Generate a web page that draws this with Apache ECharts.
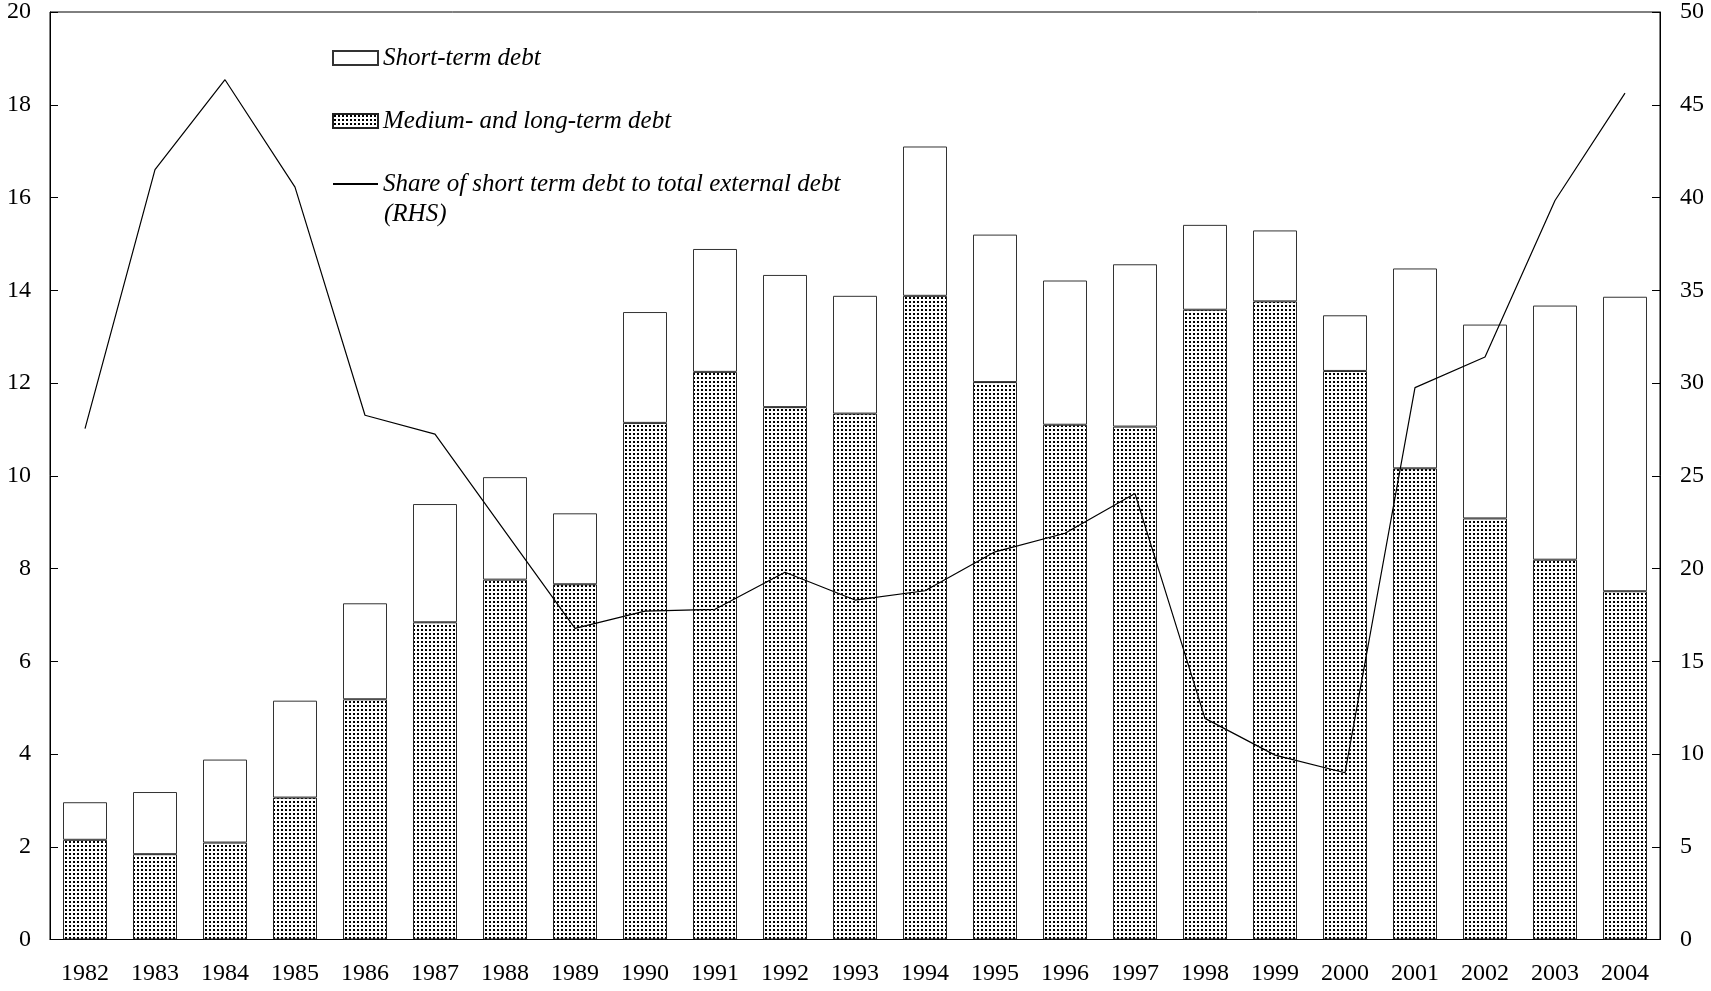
<!DOCTYPE html>
<html>
<head>
<meta charset="utf-8">
<script src="https://cdn.jsdelivr.net/npm/echarts@6/dist/echarts.min.js"></script>
<style>
html,body{margin:0;padding:0;background:#fff;}
#chart{width:1711px;height:991px;}
</style>
</head>
<body>
<div id="chart"></div>
<script>
const years = ['1982','1983','1984','1985','1986','1987','1988','1989','1990','1991','1992','1993','1994','1995','1996','1997','1998','1999','2000','2001','2002','2003','2004'];
const mediumLongTerm = [2.15, 1.84, 2.09, 3.06, 5.18, 6.84, 7.76, 7.66, 11.14, 12.24, 11.48, 11.34, 13.88, 12.02, 11.10, 11.06, 13.58, 13.76, 12.26, 10.16, 9.08, 8.19, 7.51];
const shortTerm = [0.81, 1.34, 1.79, 2.09, 2.07, 2.55, 2.21, 1.53, 2.39, 2.65, 2.85, 2.54, 3.22, 3.18, 3.11, 3.50, 1.83, 1.53, 1.20, 4.31, 4.18, 5.48, 6.35];
const shareShortTerm = [27.54, 41.5, 46.35, 40.56, 28.26, 27.24, 22.0, 16.77, 17.7, 17.8, 19.8, 18.3, 18.8, 20.9, 21.9, 24.04, 11.92, 9.94, 8.99, 29.75, 31.4, 39.84, 45.63];
const leftTicks = {min: 0, max: 20, interval: 2};
const rightTicks = {min: 0, max: 50, interval: 5};

const NAME_ST = 'Short-term debt';
const NAME_MLT = 'Medium- and long-term debt';
const NAME_SHARE = 'Share of short term debt to total external debt (RHS)';

const pat = document.createElement('canvas');
pat.width = 4; pat.height = 4;
const pc = pat.getContext('2d');
pc.fillStyle = '#fff'; pc.fillRect(0, 0, 4, 4);
pc.fillStyle = '#000'; pc.fillRect(1, 1, 2, 2);

const FONT = 'Liberation Serif';
const chart = echarts.init(document.getElementById('chart'), null, {renderer: 'canvas'});
chart.setOption({
  animation: false,
  backgroundColor: '#fff',
  grid: {left: 50, right: 51, top: 11.5, bottom: 51.5, show: true, borderColor: '#000', borderWidth: 1, backgroundColor: 'transparent'},
  legend: {
    orient: 'vertical', left: 332, top: 45.5, padding: 0,
    itemWidth: 45, itemHeight: 14, itemGap: 38,
    textStyle: {fontFamily: FONT, fontStyle: 'italic', fontSize: 25, lineHeight: 25, color: '#000'},
    data: [
      {name: NAME_ST, icon: 'rect'},
      {name: NAME_MLT, icon: 'rect'},
      {name: NAME_SHARE, itemStyle: {opacity: 0}}
    ],
    formatter: function (n) { return n === NAME_SHARE ? 'Share of short term debt to total external debt' : n; }
  },
  graphic: [{
    type: 'text', left: 384, top: 202,
    style: {text: '(RHS)', font: 'italic 25px "Liberation Serif"', fill: '#000'}
  }],
  xAxis: {
    type: 'category', data: years, boundaryGap: true,
    axisLine: {lineStyle: {color: '#000', width: 1}},
    axisTick: {inside: true, length: 8, lineStyle: {color: '#000'}},
    axisLabel: {fontFamily: FONT, fontSize: 24, color: '#000', margin: 22, interval: 0}
  },
  yAxis: [{
    type: 'value', min: leftTicks.min, max: leftTicks.max, interval: leftTicks.interval,
    axisLine: {show: true, lineStyle: {color: '#000', width: 1}},
    axisTick: {show: true, inside: true, length: 8, lineStyle: {color: '#000'}},
    axisLabel: {fontFamily: FONT, fontSize: 24, color: '#000', margin: 19},
    splitLine: {show: false}
  }, {
    type: 'value', position: 'right', min: rightTicks.min, max: rightTicks.max, interval: rightTicks.interval,
    axisLine: {show: true, lineStyle: {color: '#000', width: 1}},
    axisTick: {show: true, inside: true, length: 8, lineStyle: {color: '#000'}},
    axisLabel: {fontFamily: FONT, fontSize: 24, color: '#000', margin: 20},
    splitLine: {show: false}
  }],
  series: [{
    name: NAME_MLT, type: 'bar', stack: 'debt', barWidth: 44, data: mediumLongTerm,
    itemStyle: {color: {image: pat, repeat: 'repeat'}, borderColor: '#222', borderWidth: 1}
  }, {
    name: NAME_ST, type: 'bar', stack: 'debt', barWidth: 44, data: shortTerm,
    itemStyle: {color: '#fff', borderColor: '#333', borderWidth: 1}
  }, {
    name: NAME_SHARE, type: 'line', yAxisIndex: 1, data: shareShortTerm,
    symbol: 'none', lineStyle: {color: '#000', width: 1.2}, itemStyle: {color: '#000'}, z: 5
  }]
});
</script>
</body>
</html>
